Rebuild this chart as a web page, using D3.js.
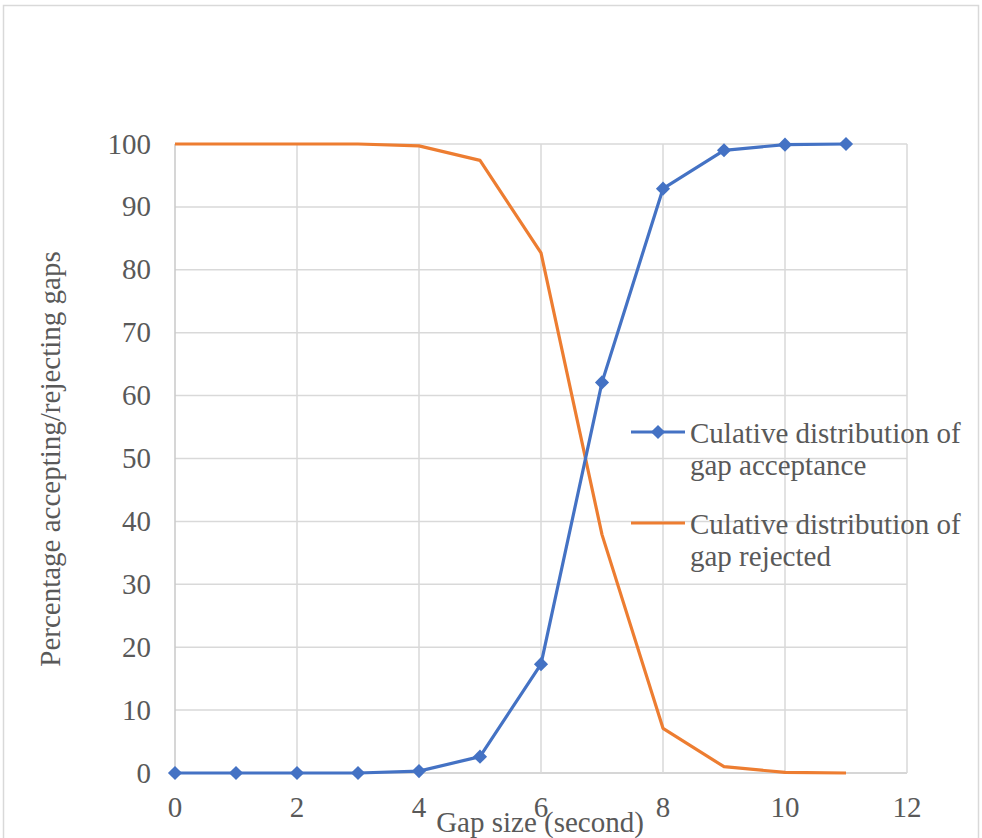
<!DOCTYPE html>
<html>
<head>
<meta charset="utf-8">
<script src="https://cdn.jsdelivr.net/npm/d3@7/dist/d3.min.js"></script>
<style>
  html, body { margin: 0; padding: 0; background: #fff; }
  svg { display: block; }
</style>
</head>
<body>
<svg id="chart" width="982" height="838"></svg>
<script>
// Gap size in seconds
const gapSizes = [0, 1, 2, 3, 4, 5, 6, 7, 8, 9, 10, 11];
// Cumulative share of drivers accepting each gap (%)
const accepted = [0, 0, 0, 0, 0.3, 2.6, 17.3, 62.1, 92.9, 99.0, 99.9, 100];
// Cumulative share of drivers rejecting each gap (%)
const rejected = [100, 100, 100, 100, 99.7, 97.4, 82.7, 37.9, 7.1, 1.0, 0.1, 0];
const xTicks = [0, 2, 4, 6, 8, 10, 12];
const yTicks = [0, 10, 20, 30, 40, 50, 60, 70, 80, 90, 100];
const seriesNames = [
  ["Culative distribution of", "gap acceptance"],
  ["Culative distribution of", "gap rejected"]
];

const svg = d3.select("#chart");
const font = "'Liberation Serif', 'Times New Roman', serif";
const fontSize = 29;
const textColor = "#595959";
const gridColor = "#d9d9d9";

// chart frame
svg.append("rect")
  .attr("x", 3.5).attr("y", 5.5).attr("width", 975).attr("height", 850)
  .attr("fill", "#fff").attr("stroke", "#d9d9d9").attr("stroke-width", 1.5);

const x = d3.scaleLinear().domain([0, 12]).range([175, 907]);
const y = d3.scaleLinear().domain([0, 100]).range([773, 144]);

// grid lines
svg.append("g").selectAll("line").data(yTicks).join("line")
  .attr("x1", x(0)).attr("x2", x(12))
  .attr("y1", d => y(d)).attr("y2", d => y(d))
  .attr("stroke", d => d === 0 ? "#c8c8c8" : gridColor).attr("stroke-width", 1.5);
svg.append("g").selectAll("line").data(xTicks).join("line")
  .attr("x1", d => x(d)).attr("x2", d => x(d))
  .attr("y1", y(0)).attr("y2", y(100))
  .attr("stroke", d => d === 0 ? "#c8c8c8" : gridColor).attr("stroke-width", 1.5);

// tick labels
svg.append("g").selectAll("text").data(yTicks).join("text")
  .attr("x", 151).attr("y", d => y(d) + 9.5)
  .attr("text-anchor", "end")
  .attr("font-family", font).attr("font-size", fontSize).attr("fill", textColor)
  .text(d => d);
svg.append("g").selectAll("text").data(xTicks).join("text")
  .attr("x", d => x(d)).attr("y", 817)
  .attr("text-anchor", "middle")
  .attr("font-family", font).attr("font-size", fontSize).attr("fill", textColor)
  .text(d => d);

// axis titles
svg.append("text")
  .attr("x", 540).attr("y", 832)
  .attr("text-anchor", "middle")
  .attr("font-family", font).attr("font-size", fontSize).attr("fill", textColor)
  .text("Gap size (second)");
svg.append("text")
  .attr("transform", "translate(60,459) rotate(-90)")
  .attr("text-anchor", "middle")
  .attr("font-family", font).attr("font-size", fontSize).attr("fill", textColor)
  .text("Percentage accepting/rejecting gaps");

const line = d3.line().x(d => x(d[0])).y(d => y(d[1]));
const accData = gapSizes.map((g, i) => [g, accepted[i]]);
const rejData = gapSizes.map((g, i) => [g, rejected[i]]);

svg.append("path").datum(rejData).attr("d", line)
  .attr("fill", "none").attr("stroke", "#ED7D31").attr("stroke-width", 3.2)
  .attr("stroke-linejoin", "round");
svg.append("path").datum(accData).attr("d", line)
  .attr("fill", "none").attr("stroke", "#4472C4").attr("stroke-width", 3.2)
  .attr("stroke-linejoin", "round");

const diamond = d3.symbol().type(d3.symbolSquare).size(100);
svg.append("g").selectAll("path").data(accData).join("path")
  .attr("d", diamond)
  .attr("transform", d => `translate(${x(d[0])},${y(d[1])}) rotate(45)`)
  .attr("fill", "#4472C4");

// legend
const legend = svg.append("g");
const legendRows = [
  { color: "#ED7D31", marker: false, y: 523, lines: seriesNames[1] },
  { color: "#4472C4", marker: true, y: 432, lines: seriesNames[0] }
];
legendRows.forEach(r => {
  legend.append("line")
    .attr("x1", 631).attr("x2", 685).attr("y1", r.y).attr("y2", r.y)
    .attr("stroke", r.color).attr("stroke-width", 3.2);
  if (r.marker) {
    legend.append("path").attr("d", diamond)
      .attr("transform", `translate(658,${r.y}) rotate(45)`)
      .attr("fill", r.color);
  }
  r.lines.forEach((t, i) => {
    legend.append("text")
      .attr("x", 690).attr("y", r.y + 11 + i * 32)
      .attr("font-family", font).attr("font-size", fontSize).attr("fill", textColor)
      .text(t);
  });
});
</script>
</body>
</html>
